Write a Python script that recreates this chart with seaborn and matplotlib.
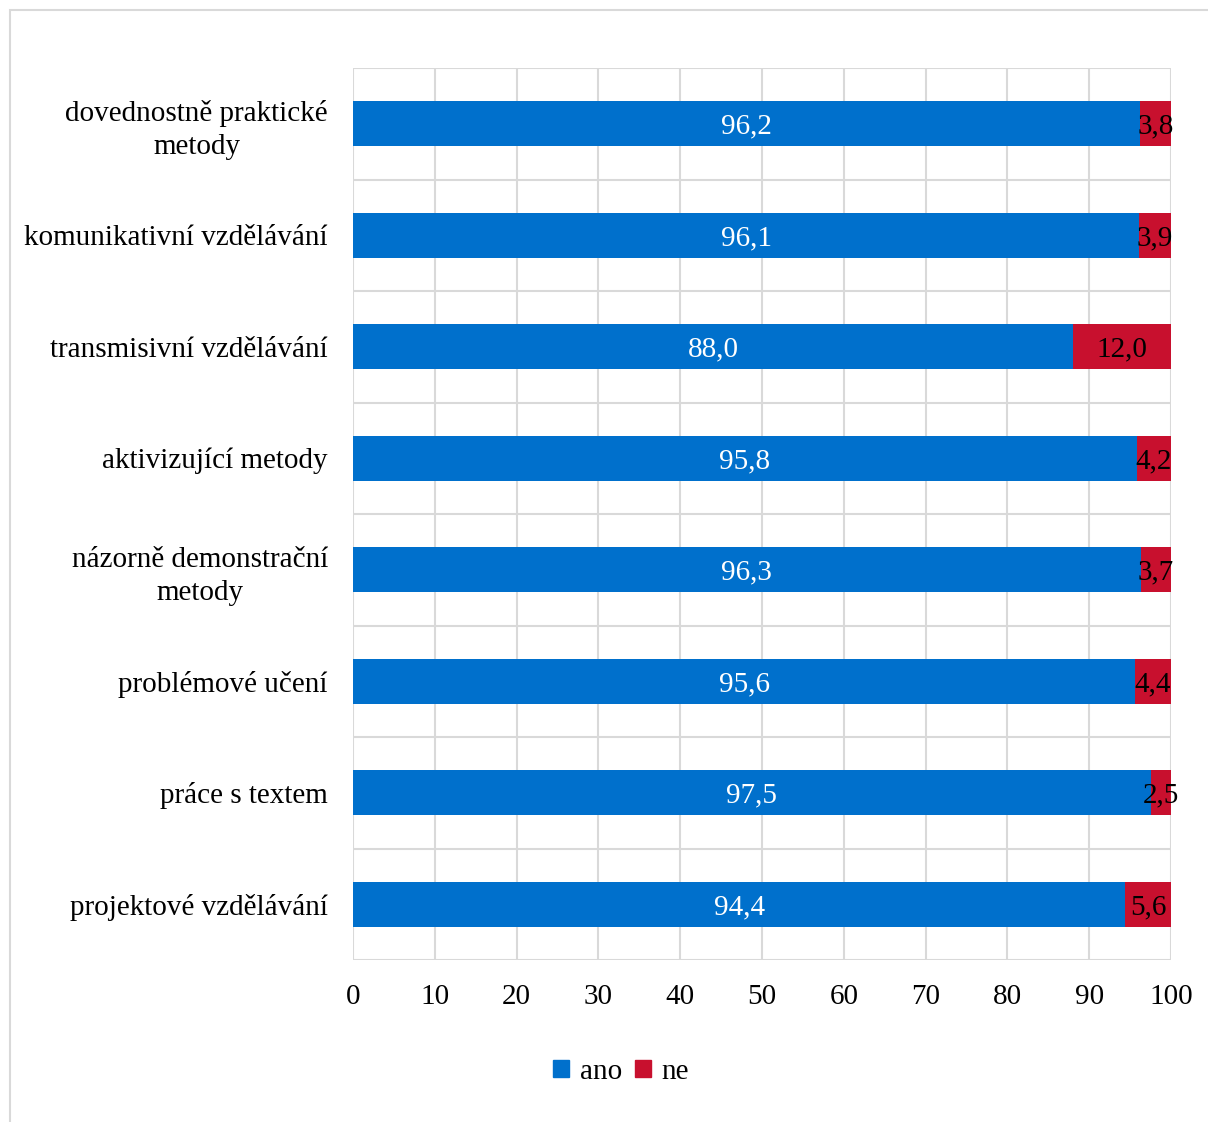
import numpy as np
import pandas as pd
import matplotlib.pyplot as plt
import seaborn as sns
from matplotlib.patches import Rectangle, Patch

# data
categories = ['dovednostně praktické\nmetody', 'komunikativní vzdělávání', 'transmisivní vzdělávání',
              'aktivizující metody', 'názorně demonstrační\nmetody', 'problémové učení',
              'práce s textem', 'projektové vzdělávání']
ano = [96.2, 96.1, 88.0, 95.8, 96.3, 95.6, 97.5, 94.4]
ne = [3.8, 3.9, 12.0, 4.2, 3.7, 4.4, 2.5, 5.6]

blue = '#0070CC'
red = '#C8102E'
grid_c = '#D9D9D9'

df = pd.DataFrame({'cat': categories, 'ano': ano, 'ne': ne})
df['total'] = df['ano'] + df['ne']

sns.set_style('white')
plt.rcParams['font.family'] = ['Liberation Serif', 'DejaVu Serif']
plt.rcParams['text.color'] = 'black'
plt.rcParams['xtick.color'] = 'black'
plt.rcParams['ytick.color'] = 'black'

fig = plt.figure(figsize=(12.08, 11.22), dpi=100)
# outer chart frame
fig.patches.append(Rectangle((10 / 1208, -0.01), 1.0, 1 - 10 / 1122 + 0.01, transform=fig.transFigure,
                             fill=False, edgecolor=grid_c, linewidth=1.5))
ax = fig.add_axes([353 / 1208, 1 - 960 / 1122, 818 / 1208, 892 / 1122])

# stacked bars: red full length underneath, blue on top
sns.barplot(data=df, y='cat', x='total', color=red, saturation=1, orient='h', width=0.4, ax=ax, zorder=3)
sns.barplot(data=df, y='cat', x='ano', color=blue, saturation=1, orient='h', width=0.4, ax=ax, zorder=3)
for p in ax.patches:
    p.set_linewidth(0)

for i in range(len(categories)):
    ax.text(ano[i] / 2, i, f'{ano[i]:.1f}'.replace('.', ','), color='white', fontsize=21,
            ha='center', va='center_baseline', zorder=5)
    ax.text(ano[i] + ne[i] / 2, i, f'{ne[i]:.1f}'.replace('.', ','), color='black', fontsize=21,
            ha='center', va='center_baseline', zorder=5)

ax.set_xlim(0, 100)
ax.set_ylim(len(categories) - 0.5, -0.5)
ax.set_xticks(np.arange(0, 101, 10))
ax.set_yticks(np.arange(-0.5, len(categories), 1), minor=True)
ax.grid(axis='x', which='major', color=grid_c, linewidth=1.5, zorder=0)
ax.grid(axis='y', which='minor', color=grid_c, linewidth=1.5, zorder=0)
ax.set_axisbelow(True)
for s in ax.spines.values():
    s.set_visible(False)
ax.tick_params(axis='both', which='both', length=0, labelsize=21)
ax.tick_params(axis='x', pad=17)
ax.tick_params(axis='y', pad=18)
for t in ax.get_yticklabels():
    t.set_multialignment('center')
    t.set_linespacing(1.35)
ax.set_xlabel('')
ax.set_ylabel('')

handles = [Patch(color=blue, label='ano'), Patch(color=red, label='ne')]
fig.legend(handles=handles, loc='center', bbox_to_anchor=(621 / 1208, 1 - 1072 / 1122), ncol=2,
           frameon=False, fontsize=21, handlelength=0.55, handleheight=0.55, handletextpad=0.35,
           columnspacing=0.45)

fig.savefig('out.png', dpi=100)
